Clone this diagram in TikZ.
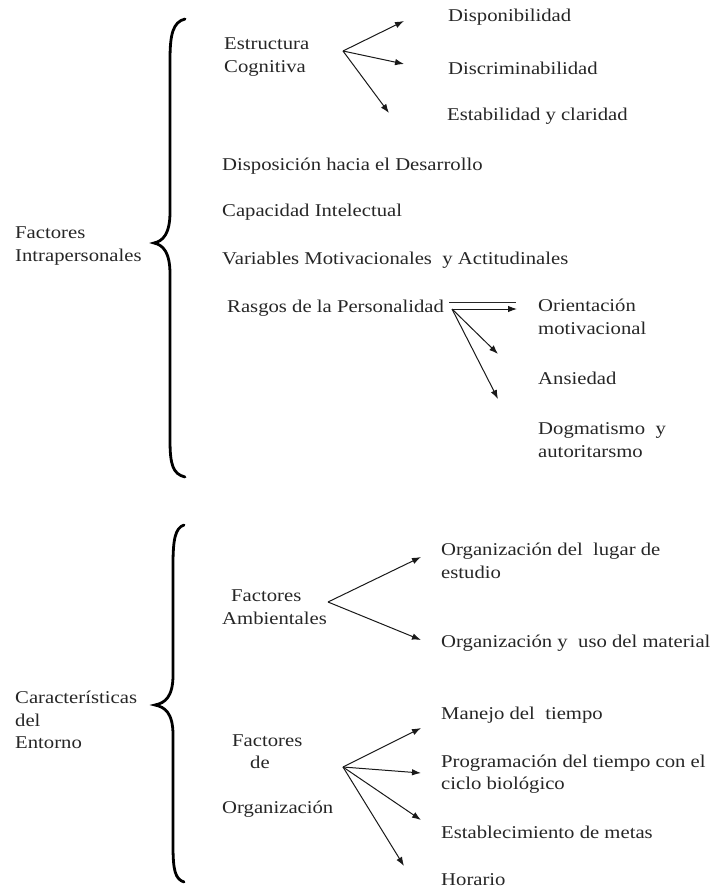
\documentclass[tikz,border=0pt]{standalone}
\usepackage{fontspec}
\setmainfont{Liberation Serif}[FakeStretch=1.15]
\usetikzlibrary{arrows.meta}
\begin{document}
\begin{tikzpicture}[x=1pt,y=-1pt,
  lbl/.style={inner sep=0pt,anchor=west,align=left,text=black!85,font=\fontsize{18}{22.5}\selectfont},
  arr/.style={draw=black!90,line width=1pt,-{Latex[length=9pt,width=6.5pt]}},
  brace/.style={draw=black,line width=2.8pt,line cap=round}]
\useasboundingbox (0,0) rectangle (719,891);

% braces
\draw[brace] (185,19) .. controls (173,22) and (170,34) .. (170,60) -- (170,212)
  .. controls (170,234) and (163,241) .. (154,243)
  .. controls (163,245) and (170,252) .. (170,274) -- (170,440)
  .. controls (170,465) and (173,474) .. (185,477);
\draw[brace] (184,525) .. controls (175,528) and (173,540) .. (173,565) -- (173,675)
  .. controls (173,697) and (165,703) .. (155,705)
  .. controls (165,707) and (173,713) .. (173,735) -- (173,845)
  .. controls (173,870) and (175,879) .. (184,882);

% left labels
\node[lbl] (fi) at (15,246) {Factores\\Intrapersonales};
\node[lbl] (ce) at (15,720) {Características\\del\\Entorno};

% upper group
\node[lbl] (ec) at (224,57) {Estructura\\Cognitiva};
\node[lbl] (disp) at (448,17) {Disponibilidad};
\node[lbl] (disc) at (448,68) {Discriminabilidad};
\node[lbl] (esta) at (447,116) {Estabilidad y claridad};
\node[lbl] (desa) at (222,166) {Disposición hacia el Desarrollo};
\node[lbl] (capa) at (222,212) {Capacidad Intelectual};
\node[lbl] (vari) at (222,260) {Variables Motivacionales\ \ y Actitudinales};
\node[lbl] (rasg) at (227,308) {Rasgos de la Personalidad};
\node[lbl] (orie) at (538,317) {Orientación\\motivacional};
\node[lbl] (ansi) at (538,378) {Ansiedad};
\node[lbl] (dogm) at (538,440) {Dogmatismo\ \ y\\autoritarsmo};

\coordinate (o1) at (343,51);
\coordinate (t11) at (404,21);
\coordinate (t12) at (404,64);
\coordinate (t13) at (389,113);
\draw[arr] (o1) -- (t11);
\draw[arr] (o1) -- (t12);
\draw[arr] (o1) -- (t13);

\coordinate (o2) at (452,309);
\coordinate (o2b) at (449,302.5);
\coordinate (t2b) at (516,302.5);
\coordinate (t21) at (517,309);
\coordinate (t22) at (498,354);
\coordinate (t23) at (498,399);
\draw[draw=black!85,line width=0.8pt] (o2b) -- (t2b);
\draw[arr] (o2) -- (t21);
\draw[arr] (o2) -- (t22);
\draw[arr] (o2) -- (t23);

% lower group
\node[lbl] (fa) at (222,607) {\hspace{9pt}Factores\\Ambientales};
\node[lbl] (olug) at (441,561) {Organización del\ \ lugar de\\estudio};
\node[lbl] (ouso) at (441,643) {Organización y\ \ uso del material};

\node[lbl] (fo) at (222,776) {\hspace{10pt}Factores\\\hspace{28pt}de\\[22pt]Organización};
\node[lbl] (mane) at (441,715) {Manejo del\ \ tiempo};
\node[lbl] (prog) at (441,774) {Programación del tiempo con el\\ciclo biológico};
\node[lbl] (esme) at (441,832) {Establecimiento de metas};
\node[lbl] (hora) at (441,880) {Horario};

\coordinate (o3) at (328,602);
\coordinate (t31) at (421,557);
\coordinate (t32) at (421,640);
\draw[arr] (o3) -- (t31);
\draw[arr] (o3) -- (t32);

\coordinate (o4) at (343,767);
\coordinate (t41) at (421,728);
\coordinate (t42) at (421,773);
\coordinate (t43) at (421,820);
\coordinate (t44) at (404,866);
\draw[arr] (o4) -- (t41);
\draw[arr] (o4) -- (t42);
\draw[arr] (o4) -- (t43);
\draw[arr] (o4) -- (t44);
\end{tikzpicture}
\end{document}
